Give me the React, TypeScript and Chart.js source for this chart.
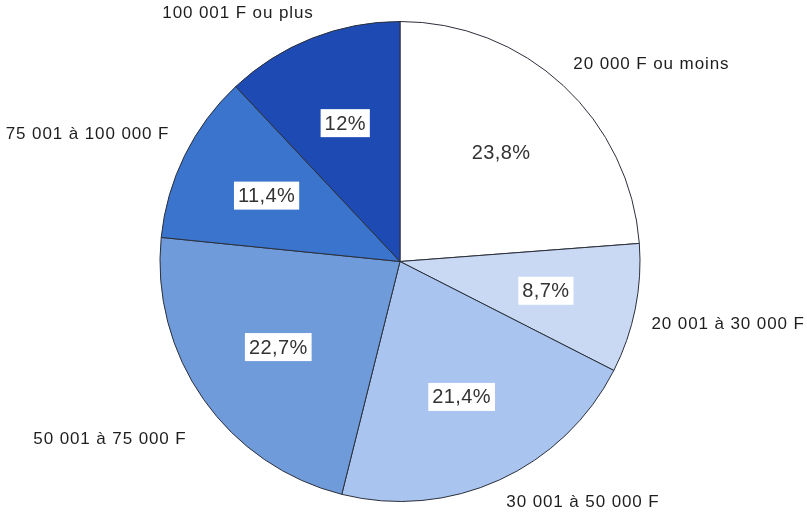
import React, { useEffect, useRef } from "react";
import { Chart, registerables } from "chart.js";

Chart.register(...registerables);

// Income brackets and their share (%), clockwise from 12 o'clock
const categories = [
  "20 000 F ou moins",
  "20 001 à 30 000 F",
  "30 001 à 50 000 F",
  "50 001 à 75 000 F",
  "75 001 à 100 000 F",
  "100 001 F ou plus",
];
const shares = [23.8, 8.7, 21.4, 22.7, 11.4, 12];
const valueLabels = ["23,8%", "8,7%", "21,4%", "22,7%", "11,4%", "12%"];

const sliceColors = ["#ffffff", "#c9d9f4", "#a9c5ef", "#6f9bdb", "#3a74cc", "#1e4bb3"];

// Where each outer caption sits: fraction along its slice's arc, and distance in radii
const captionArcFraction = [0.6, 0.47, 0.33, 0.55, 0.41, 0.24];
const captionRadius = [1.34, 1.39, 1.25, 1.41, 1.41, 1.245];

const labelPlugin = {
  id: "sliceLabels",
  afterDatasetsDraw(chart: any) {
    const ctx = chart.ctx as CanvasRenderingContext2D;
    const meta = chart.getDatasetMeta(0);
    ctx.save();
    ctx.textAlign = "center";
    ctx.textBaseline = "middle";
    meta.data.forEach((arc: any, i: number) => {
      const { x, y, startAngle, endAngle, outerRadius } = arc.getProps(
        ["x", "y", "startAngle", "endAngle", "outerRadius"],
        true
      );
      // value inside the slice, on a white box
      const mid = (startAngle + endAngle) / 2;
      const vx = x + Math.cos(mid) * outerRadius * 0.62;
      const vy = y + Math.sin(mid) * outerRadius * 0.62;
      ctx.font = "20px 'Liberation Sans', Arial, sans-serif";
      (ctx as any).letterSpacing = "0.4px";
      const w = ctx.measureText(valueLabels[i]).width;
      ctx.fillStyle = "#ffffff";
      ctx.fillRect(vx - w / 2 - 4, vy - 14, w + 8, 28);
      ctx.fillStyle = "#333333";
      ctx.fillText(valueLabels[i], vx, vy + 1);

      // category caption outside the pie
      const a = startAngle + (endAngle - startAngle) * captionArcFraction[i];
      const cx = x + Math.cos(a) * outerRadius * captionRadius[i];
      const cy = y + Math.sin(a) * outerRadius * captionRadius[i];
      ctx.font = "17px 'Liberation Sans', Arial, sans-serif";
      (ctx as any).letterSpacing = "0.9px";
      ctx.fillStyle = "#1e1e1e";
      ctx.fillText(categories[i], cx, cy + 3);
    });
    ctx.restore();
  },
};

export default function App() {
  const canvasRef = useRef<HTMLCanvasElement | null>(null);

  useEffect(() => {
    if (!canvasRef.current) return;
    const chart = new Chart(canvasRef.current, {
      type: "pie",
      data: {
        labels: categories,
        datasets: [
          {
            data: shares,
            backgroundColor: sliceColors,
            borderColor: "#2b2f3a",
            borderWidth: 1,
          },
        ],
      },
      options: {
        responsive: false,
        animation: false,
        layout: { padding: { top: 21, bottom: 12, left: 159, right: 166 } },
        plugins: {
          legend: { display: false },
          tooltip: { enabled: false },
        },
      },
      plugins: [labelPlugin],
    });
    return () => chart.destroy();
  }, []);

  return (
    <div style={{ position: "fixed", left: 0, top: 0, width: 807, height: 514, background: "#fff" }}>
      <canvas ref={canvasRef} width={807} height={514} style={{ display: "block" }} />
    </div>
  );
}
